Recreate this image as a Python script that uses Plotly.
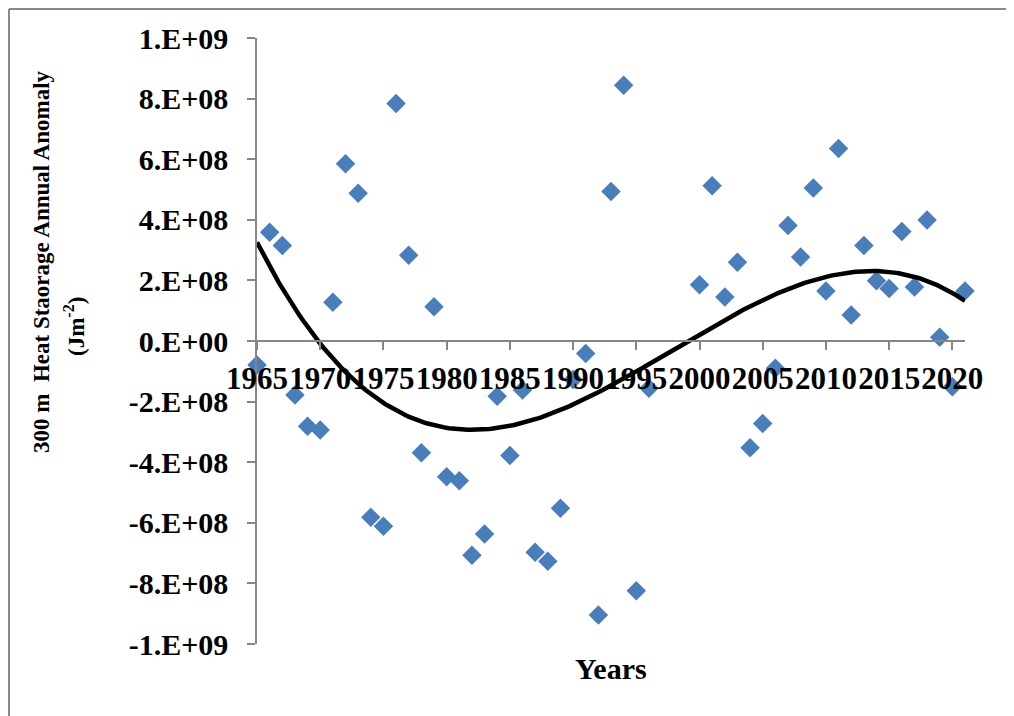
import numpy as np
import plotly.graph_objects as go

years = [1965, 1966, 1967, 1968, 1969, 1970, 1971, 1972, 1973, 1974,
         1975, 1976, 1977, 1978, 1979, 1980, 1981, 1982, 1983, 1984,
         1985, 1986, 1987, 1988, 1989, 1990, 1991, 1992, 1993, 1994,
         1995, 1996, 2000, 2001, 2002, 2003, 2004, 2005, 2006, 2007,
         2008, 2009, 2010, 2011, 2012, 2013, 2014, 2015, 2016, 2017,
         2018, 2019, 2020, 2021]
anomaly = [-0.79e8, 3.59e8, 3.15e8, -1.78e8, -2.81e8, -2.94e8, 1.28e8, 5.85e8, 4.88e8, -5.82e8,
           -6.11e8, 7.84e8, 2.83e8, -3.69e8, 1.13e8, -4.48e8, -4.61e8, -7.07e8, -6.37e8, -1.82e8,
           -3.78e8, -1.62e8, -6.97e8, -7.27e8, -5.52e8, -1.27e8, -0.41e8, -9.04e8, 4.93e8, 8.44e8,
           -8.24e8, -1.56e8, 1.86e8, 5.12e8, 1.45e8, 2.60e8, -3.52e8, -2.72e8, -0.90e8, 3.81e8,
           2.77e8, 5.05e8, 1.65e8, 6.35e8, 0.86e8, 3.15e8, 1.99e8, 1.73e8, 3.61e8, 1.78e8,
           3.99e8, 0.12e8, -1.51e8, 1.65e8]

x_ticks = [1965, 1970, 1975, 1980, 1985, 1990, 1995, 2000, 2005, 2010, 2015, 2020]
y_ticks = [1e9, 8e8, 6e8, 4e8, 2e8, 0, -2e8, -4e8, -6e8, -8e8, -1e9]
y_ticktext = ["1.E+09", "8.E+08", "6.E+08", "4.E+08", "2.E+08", "0.E+00",
              "-2.E+08", "-4.E+08", "-6.E+08", "-8.E+08", "-1.E+09"]

# cubic polynomial trend line (as Excel's order-3 trendline)
xa = np.array(years, dtype=float)
ya = np.array(anomaly, dtype=float)
coef = np.polyfit(xa - 1993.0, ya, 3)
xt = np.linspace(1965, 2021, 300)
yt = np.polyval(coef, xt - 1993.0)

OFF = 8  # page body margin in the browser
W, H = 1014, 716
PL, PT, PR, PB = 257, 38, 965, 644  # target plot-area pixels in the screenshot
L, T = PL - OFF, PT - OFF
pw, ph = PR - PL, PB - PT
R, B = W - L - pw, H - T - ph


def px(x):
    return (x - PL) / pw


def py(y):
    return (PB - y) / ph


FONT = "Liberation Serif"
AXC = "#868686"

fig = go.Figure()
fig.add_trace(go.Scatter(
    x=years, y=anomaly, mode="markers",
    marker=dict(symbol="diamond", size=15, color="#4A7EBB"),
    cliponaxis=False, showlegend=False))
fig.add_trace(go.Scatter(
    x=xt, y=yt, mode="lines",
    line=dict(color="black", width=4.5),
    showlegend=False))

fig.update_layout(
    width=W, height=H,
    margin=dict(l=L, r=R, t=T, b=B, autoexpand=False),
    paper_bgcolor="white", plot_bgcolor="white",
    font=dict(family=FONT, color="black"),
    xaxis=dict(range=[1965, 2021], tickvals=x_ticks, tickangle=0,
               ticks="outside", ticklen=8, tickcolor=AXC, tickwidth=1.5,
               showline=True, linecolor=AXC, linewidth=1.5,
               showgrid=False, zeroline=False,
               anchor="free", position=0.5, ticklabelstandoff=2,
               tickfont=dict(family=FONT, size=31, color="black", weight="bold")),
    yaxis=dict(range=[-1e9, 1e9], tickvals=y_ticks, ticktext=y_ticktext,
               ticks="outside", ticklen=8, tickcolor=AXC, tickwidth=1.5,
               showline=True, linecolor=AXC, linewidth=1.5,
               showgrid=False, zeroline=False, ticklabelstandoff=13,
               tickfont=dict(family=FONT, size=30, color="black", weight="bold")),
    shapes=[
        dict(type="line", xref="paper", yref="paper",
             x0=px(9), x1=px(1030), y0=py(OFF + 1), y1=py(OFF + 1),
             line=dict(color="#898989", width=2)),
        dict(type="line", xref="paper", yref="paper",
             x0=px(9), x1=px(9), y0=py(OFF + 1), y1=py(740),
             line=dict(color="#898989", width=2)),
    ],
    annotations=[
        dict(text="<b>Years</b>", xref="paper", yref="paper",
             x=px(611), y=py(668), xanchor="center", yanchor="middle",
             showarrow=False, font=dict(family=FONT, size=30, color="black")),
        dict(text="<b>300 m  Heat Staorage Annual Anomaly</b>", xref="paper", yref="paper",
             x=px(41), y=py(262), xanchor="center", yanchor="middle", textangle=-90,
             showarrow=False, font=dict(family=FONT, size=23, color="black")),
        dict(text="<b>(Jm<sup>-2</sup>)</b>", xref="paper", yref="paper",
             x=px(74), y=py(327), xanchor="center", yanchor="middle", textangle=-90,
             showarrow=False, font=dict(family=FONT, size=23, color="black")),
    ],
)

fig.write_html("out.html")
